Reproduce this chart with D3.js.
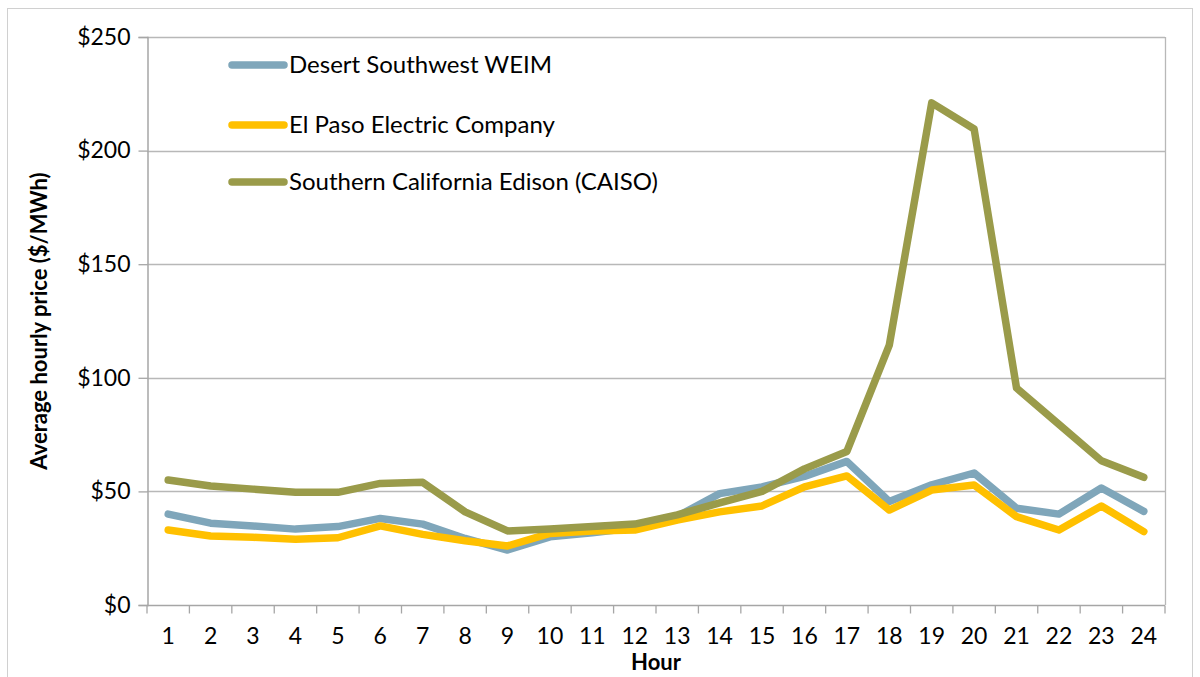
<!DOCTYPE html>
<html>
<head>
<meta charset="utf-8" />
<title>Average hourly price</title>
<style>
html, body {
	margin: 0px;
	padding: 0px;
	background: #fff;
}
svg text {
	font-family: Lato, "Open Sans", sans-serif;
	fill: #000;
}
</style>
</head>
<body>
<svg id="chart" width="1200" height="677"></svg>

<script src="https://d3js.org/d3.v7.min.js"></script>
<script>

// data
var hours = d3.range(1, 25);
var yTicks = [0, 50, 100, 150, 200, 250];

var desertSW = [40, 36, 34.8, 33.4, 34.5, 38.1, 35.6, 29.3, 24.2, 30, 31.8, 34,
	39, 49, 52, 56.6, 63.2, 45.6, 52.9, 58.1, 42.6, 40, 51.5, 41.2];
var elPaso = [33, 30.4, 29.8, 28.9, 29.6, 34.8, 31.1, 28.3, 26, 31.5, 32.6, 33,
	37.4, 41, 43.6, 52, 56.8, 41.8, 50.6, 52.8, 38.9, 33, 43.6, 32.3];
var socal = [55, 52.4, 51, 49.6, 49.6, 53.5, 54, 41, 32.6, 33.4, 34.5, 35.6,
	39.7, 44.9, 50, 59.9, 67.6, 114.4, 221, 209.5, 95.5, 79.5, 63.5, 56.2];

var seriesNames = ["Desert Southwest WEIM", "El Paso Electric Company", "Southern California Edison (CAISO)"];
var seriesColors = ["#7fa6ba", "#ffc000", "#9a9b4a"];
var seriesValues = [desertSW, elPaso, socal];

var svg = d3.select("#chart");

// outer chart border
svg.append("rect")
	.attr("x", 7.5).attr("y", 8.5)
	.attr("width", 1185).attr("height", 700)
	.attr("fill", "none")
	.attr("stroke", "#d0d0d0");

var pLeft = 147, pRight = 1165, pTop = 37, pBottom = 605;

var x = d3.scaleBand().domain(hours).range([pLeft, pRight]);
var y = d3.scaleLinear().domain([0, 250]).range([pBottom, pTop]);

// gridlines
svg.append("g")
	.selectAll("line")
	.data(yTicks.slice(1))
	.enter()
	.append("line")
		.attr("x1", pLeft).attr("x2", pRight)
		.attr("y1", function(d){ return Math.round(y(d)) + 0.5; })
		.attr("y2", function(d){ return Math.round(y(d)) + 0.5; })
		.attr("stroke", "#b8b8b8")
		.attr("stroke-width", 1.3);

// right border of plot
svg.append("line")
	.attr("x1", pRight + 0.5).attr("x2", pRight + 0.5)
	.attr("y1", pTop).attr("y2", pBottom)
	.attr("stroke", "#b8b8b8").attr("stroke-width", 1.3);

// y axis
var yAxis = d3.axisLeft(y)
	.tickValues(yTicks)
	.tickSize(9)
	.tickPadding(8)
	.tickFormat(function(d){ return "$" + d; });

var gy = svg.append("g")
	.attr("transform", "translate(" + (pLeft + 0.5) + ",0)")
	.call(yAxis);
gy.select(".domain").attr("stroke", "#a6a6a6").attr("stroke-width", 1.5);
gy.selectAll(".tick line").attr("stroke", "#a6a6a6").attr("stroke-width", 1.3);
gy.selectAll("text").attr("font-size", 23).attr("font-family", "Lato, sans-serif").attr("fill", "#000");

// x axis: ticks at category boundaries
var gx = svg.append("g")
	.attr("transform", "translate(0," + (pBottom + 0.5) + ")");
gx.append("line")
	.attr("x1", pLeft).attr("x2", pRight)
	.attr("stroke", "#a6a6a6").attr("stroke-width", 1.5);
gx.selectAll(".tk")
	.data(hours.concat([25]))
	.enter()
	.append("line")
		.attr("class", "tk")
		.attr("x1", function(d){ return d === 25 ? pRight : x(d); })
		.attr("x2", function(d){ return d === 25 ? pRight : x(d); })
		.attr("y1", 0).attr("y2", 8)
		.attr("stroke", "#a6a6a6").attr("stroke-width", 1.3);
gx.selectAll(".lbl")
	.data(hours)
	.enter()
	.append("text")
		.attr("class", "lbl")
		.attr("x", function(d){ return x(d) + x.bandwidth() / 2; })
		.attr("y", 38)
		.attr("text-anchor", "middle")
		.attr("font-size", 23)
		.text(function(d){ return d; });

// axis titles
svg.append("text")
	.attr("x", (pLeft + pRight) / 2)
	.attr("y", 670)
	.attr("text-anchor", "middle")
	.attr("font-size", 22)
	.attr("font-weight", "bold")
	.text("Hour");

svg.append("text")
	.attr("transform", "translate(47," + ((pTop + pBottom) / 2) + ") rotate(-90)")
	.attr("text-anchor", "middle")
	.attr("font-size", 22)
	.attr("font-weight", "bold")
	.text("Average hourly price ($/MWh)");

// lines
var line = d3.line()
	.x(function(d, i){ return x(hours[i]) + x.bandwidth() / 2; })
	.y(function(d){ return y(d); });

svg.append("g")
	.selectAll("path")
	.data(seriesValues)
	.enter()
	.append("path")
		.attr("d", line)
		.attr("fill", "none")
		.attr("stroke", function(d, i){ return seriesColors[i]; })
		.attr("stroke-width", 7.5)
		.attr("stroke-linejoin", "round")
		.attr("stroke-linecap", "round");

// legend
var legendY = [65, 125, 182];
var lg = svg.append("g")
	.selectAll("g")
	.data(seriesNames)
	.enter()
	.append("g")
		.attr("transform", function(d, i){ return "translate(0," + legendY[i] + ")"; });
lg.append("line")
	.attr("x1", 232).attr("x2", 284)
	.attr("stroke", function(d, i){ return seriesColors[i]; })
	.attr("stroke-width", 7.5)
	.attr("stroke-linecap", "round");
lg.append("text")
	.attr("x", 289)
	.attr("y", 8)
	.attr("font-size", 24)
	.text(function(d){ return d; });

</script>
</body>
</html>
